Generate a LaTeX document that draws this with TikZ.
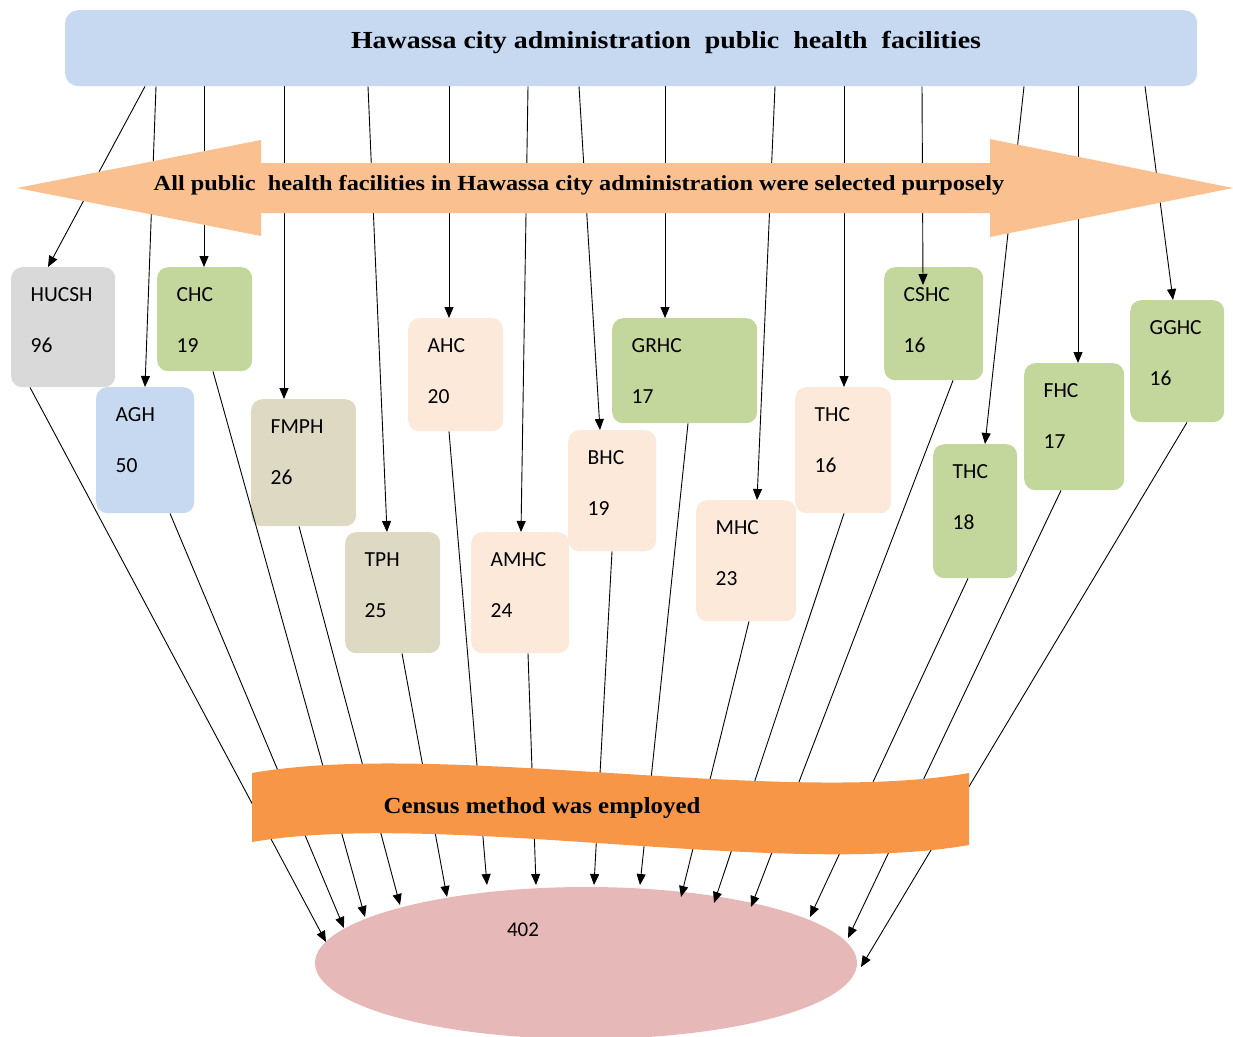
\documentclass[tikz,border=0pt]{standalone}
\usepackage{fontspec}
\setmainfont{Liberation Serif}
\newfontfamily\calib{Carlito}
\usetikzlibrary{arrows.meta,shapes.geometric}
\definecolor{topblue}{HTML}{C6D9F1}
\definecolor{bannerorange}{HTML}{FAC090}
\definecolor{censusorange}{HTML}{F79646}
\definecolor{ellpink}{HTML}{E6B9B8}
\definecolor{boxgray}{HTML}{D9D9D9}
\definecolor{boxgreen}{HTML}{C3D69B}
\definecolor{boxbeige}{HTML}{DDD9C3}
\definecolor{boxpeach}{HTML}{FDE9D9}
\newcommand\facbox[8]{%
  \node[fbx, fill=#6, minimum width=#4, minimum height=#5] (#1) at (#2,#3) {};
  \node[flbl] (#1-n) at ([shift={(19.5,34)}]#1.north west) {#7};
  \node[flbl] (#1-v) at ([shift={(19.5,85)}]#1.north west) {#8};
}
\begin{document}
\begin{tikzpicture}[x=1pt,y=-1pt,
  fbx/.style={draw=none, rounded corners=11pt, inner sep=0pt, anchor=north west},
  flbl/.style={anchor=base west, inner sep=0pt, font=\calib\fontsize{21.5}{24}\selectfont},
  arr/.style={-{Triangle[length=11pt,width=9pt]}, line width=0.9pt, black},
  serifbold/.style={inner sep=0pt, anchor=base, font=\bfseries}]
\useasboundingbox (0,0) rectangle (1233,1036);

% top box
\node[fbx, fill=topblue, minimum width=1132, minimum height=76, rounded corners=13pt] (top) at (65,10) {};
\node[serifbold, font=\bfseries\fontsize{24.5}{28}\selectfont] (title) at (666,48)
  {\scalebox{1.14}[1]{Hawassa city administration\ \ public\ \ health\ \ facilities}};

% facility boxes
\facbox{hucsh}{11}{267}{104}{120}{boxgray}{HUCSH}{96}
\facbox{chc}{157}{267}{95}{104}{boxgreen}{CHC}{19}
\facbox{agh}{96}{387}{98}{126}{topblue}{AGH}{50}
\facbox{fmph}{251}{399}{105}{127}{boxbeige}{FMPH}{26}
\facbox{tph}{345}{532}{95}{121}{boxbeige}{TPH}{25}
\facbox{ahc}{408}{318}{95}{113}{boxpeach}{AHC}{20}
\facbox{amhc}{471}{532}{98}{121}{boxpeach}{AMHC}{24}
\facbox{bhc}{568}{430}{88}{121}{boxpeach}{BHC}{19}
\facbox{grhc}{612}{318}{145}{105}{boxgreen}{GRHC}{17}
\facbox{mhc}{696}{500}{100}{121}{boxpeach}{MHC}{23}
\facbox{thca}{795}{387}{96}{126}{boxpeach}{THC}{16}
\facbox{cshc}{884}{267}{99}{113}{boxgreen}{CSHC}{16}
\facbox{thcb}{933}{444}{84}{134}{boxgreen}{THC}{18}
\facbox{fhc}{1024}{363}{100}{127}{boxgreen}{FHC}{17}
\facbox{gghc}{1130}{300}{94}{122}{boxgreen}{GGHC}{16}

% ellipse
\node[ellipse, fill=ellpink, draw=none, minimum width=542, minimum height=152, inner sep=0pt] (ell) at (586,963) {};
\node[inner sep=0pt, anchor=base, font=\calib\fontsize{21}{24}\selectfont] (total) at (523,936) {402};

% connectors from top box
\draw[arr] ([xshift=80pt]top.south west) -- ([xshift=37pt]hucsh.north west);
\draw[arr] ([xshift=91pt]top.south west) -- ([xshift=49pt]agh.north west);
\draw[arr] ([xshift=139pt]top.south west) -- ([xshift=47pt]chc.north west);
\draw[arr] ([xshift=219pt]top.south west) -- ([xshift=33pt]fmph.north west);
\draw[arr] ([xshift=303pt]top.south west) -- ([xshift=42pt]tph.north west);
\draw[arr] ([xshift=384pt]top.south west) -- ([xshift=41pt]ahc.north west);
\draw[arr] ([xshift=463pt]top.south west) -- ([xshift=50pt]amhc.north west);
\draw[arr] ([xshift=514pt]top.south west) -- ([xshift=32pt]bhc.north west);
\draw[arr] ([xshift=600pt]top.south west) -- ([xshift=53pt]grhc.north west);
\draw[arr] ([xshift=710pt]top.south west) -- ([xshift=61pt]mhc.north west);
\draw[arr] ([xshift=779pt]top.south west) -- ([xshift=49pt]thca.north west);
\draw[arr] ([xshift=857pt]top.south west) -- ([shift={(39,18)}]cshc.north west);
\draw[arr] ([xshift=959pt]top.south west) -- ([xshift=52pt]thcb.north west);
\draw[arr] ([xshift=1013pt]top.south west) -- ([xshift=54pt]fhc.north west);
\draw[arr] ([xshift=1080pt]top.south west) -- ([xshift=43pt]gghc.north west);

% connectors to ellipse
\draw[arr] ([xshift=19pt]hucsh.south west) -- ([shift={(-260,-21)}]ell.center);
\draw[arr] ([xshift=74pt]agh.south west) -- ([shift={(-242,-35)}]ell.center);
\draw[arr] ([xshift=56pt]chc.south west) -- ([shift={(-221,-46)}]ell.center);
\draw[arr] ([xshift=48pt]fmph.south west) -- ([shift={(-186,-58)}]ell.center);
\draw[arr] ([xshift=57pt]tph.south west) -- ([shift={(-139,-66)}]ell.center);
\draw[arr] ([xshift=41pt]ahc.south west) -- ([shift={(-99,-78)}]ell.center);
\draw[arr] ([xshift=57pt]amhc.south west) -- ([shift={(-50,-78)}]ell.center);
\draw[arr] ([xshift=44pt]bhc.south west) -- ([shift={(8,-78)}]ell.center);
\draw[arr] ([xshift=76pt]grhc.south west) -- ([shift={(54,-78)}]ell.center);
\draw[arr] ([xshift=53pt]mhc.south west) -- ([shift={(95,-66)}]ell.center);
\draw[arr] ([xshift=49pt]thca.south west) -- ([shift={(128,-60)}]ell.center);
\draw[arr] ([xshift=69pt]cshc.south west) -- ([shift={(165,-56)}]ell.center);
\draw[arr] ([xshift=35pt]thcb.south west) -- ([shift={(224,-46)}]ell.center);
\draw[arr] ([xshift=37pt]fhc.south west) -- ([shift={(262,-25)}]ell.center);
\draw[arr] ([xshift=57pt]gghc.south west) -- ([shift={(275,4)}]ell.center);

% double arrow banner
\fill[bannerorange] (17,188) -- (261,140) -- (261,163) -- (990,163) -- (990,139)
  -- (1233,188) -- (990,237) -- (990,213) -- (261,213) -- (261,236) -- cycle;
\node[serifbold, font=\bfseries\fontsize{21.5}{24}\selectfont] (selected) at (579,190)
  {\scalebox{1.13}[1]{All public\ \ health facilities in Hawassa city administration were selected purposely}};

% census wave
\fill[censusorange] (252,773) .. controls (440,740) and (780,806) .. (969,773)
  -- (969,845) .. controls (780,878) and (440,810) .. (252,842) -- cycle;
\node[serifbold, font=\bfseries\fontsize{23}{26}\selectfont] (census) at (542,813)
  {\scalebox{1.08}[1]{Census method was employed}};
\end{tikzpicture}
\end{document}
